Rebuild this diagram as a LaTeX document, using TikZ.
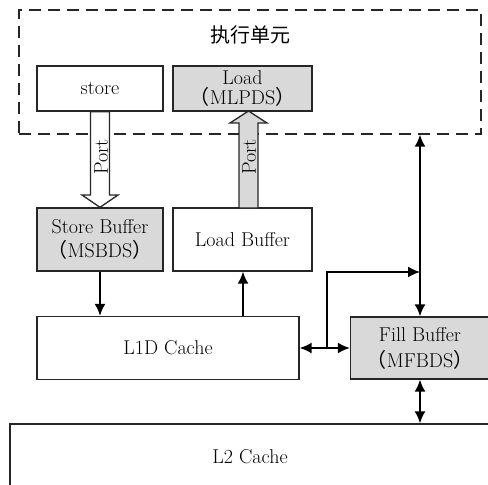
\documentclass[tikz,border=0pt]{standalone}
\usepackage{fontspec}
\newfontfamily\cjk{Noto Sans CJK SC}
\usetikzlibrary{arrows.meta,calc}
\begin{document}
\begin{tikzpicture}[x=1pt,y=-1pt,
  font=\fontsize{20}{22}\selectfont,
  box/.style={draw=black!85,line width=1.3pt,rectangle,inner sep=0pt,align=center},
  graybox/.style={box,fill=black!15},
  arr/.style={line width=1.8pt,-{Latex[length=12pt,width=11pt]}},
  darr/.style={line width=1.8pt,{Latex[length=12pt,width=11pt]}-{Latex[length=12pt,width=11pt]}},
  portarrow/.style={draw=black!85,line width=1.3pt,line join=miter}]
\clip (0,0) rectangle (488,485);
% execution unit
\node[draw=black!85,line width=1.3pt,dash pattern=on 12pt off 7pt,minimum width=462,minimum height=124,inner sep=0pt] (exec) at (250,72) {};
\node (title) at (250,35) {\cjk 执行单元};
\node[box,minimum width=126,minimum height=45] (store) at (100,88.5) {store};
\node[graybox,minimum width=139,minimum height=45] (load) at (242.5,88.5) {Load\\[-2pt]\cjk （\normalfont MLPDS\cjk ）};
% buffers
\node[graybox,minimum width=126,minimum height=63] (sb) at (100,239.5) {Store Buffer\\[2pt]\cjk （\normalfont MSBDS\cjk ）};
\node[box,minimum width=139,minimum height=63] (lb) at (242.5,239.5) {Load Buffer};
\node[box,minimum width=262,minimum height=63] (l1) at (168,348) {L1D Cache};
\node[graybox,minimum width=139,minimum height=62] (fb) at (420,348) {Fill Buffer\\[4pt]\cjk （\normalfont MFBDS\cjk ）};
\node[box,minimum width=480,minimum height=66] (l2) at (250,457) {L2 Cache};
% port arrows
\draw[portarrow,fill=white] (store.south -| 90.5,0) -- (store.south -| 109.5,0) -- (109.5,195) -- (118,195) -- (sb.north) -- (82,195) -- (90.5,195) -- cycle;
\node[rotate=90] (port1) at (101,157) {Port};
\draw[portarrow,fill=black!15] (239,208) -- (258,208) -- (258,123) -- (267,123) -- (248.5,111) -- (230,123) -- (239,123) -- cycle;
\node[rotate=90] (port2) at (249,157) {Port};
% connectors
\draw[arr] (sb.south) -- (sb.south |- l1.north);
\coordinate (lbin) at ($(lb.south)+(0.5,0)$);
\draw[arr] (l1.north -| lbin) -- (lbin);
\draw[darr] (fb.north) -- (fb.north |- exec.south);
\draw[darr] (l1.east) -- (fb.west);
\coordinate (j) at (327,348);
\coordinate (j2) at (fb.north |- 0,272);
\draw[arr,line width=1.4pt] (j) -- (327,272) -- (j2);
\draw[darr] (fb.south) -- (fb.south |- l2.north);
\end{tikzpicture}
\end{document}
